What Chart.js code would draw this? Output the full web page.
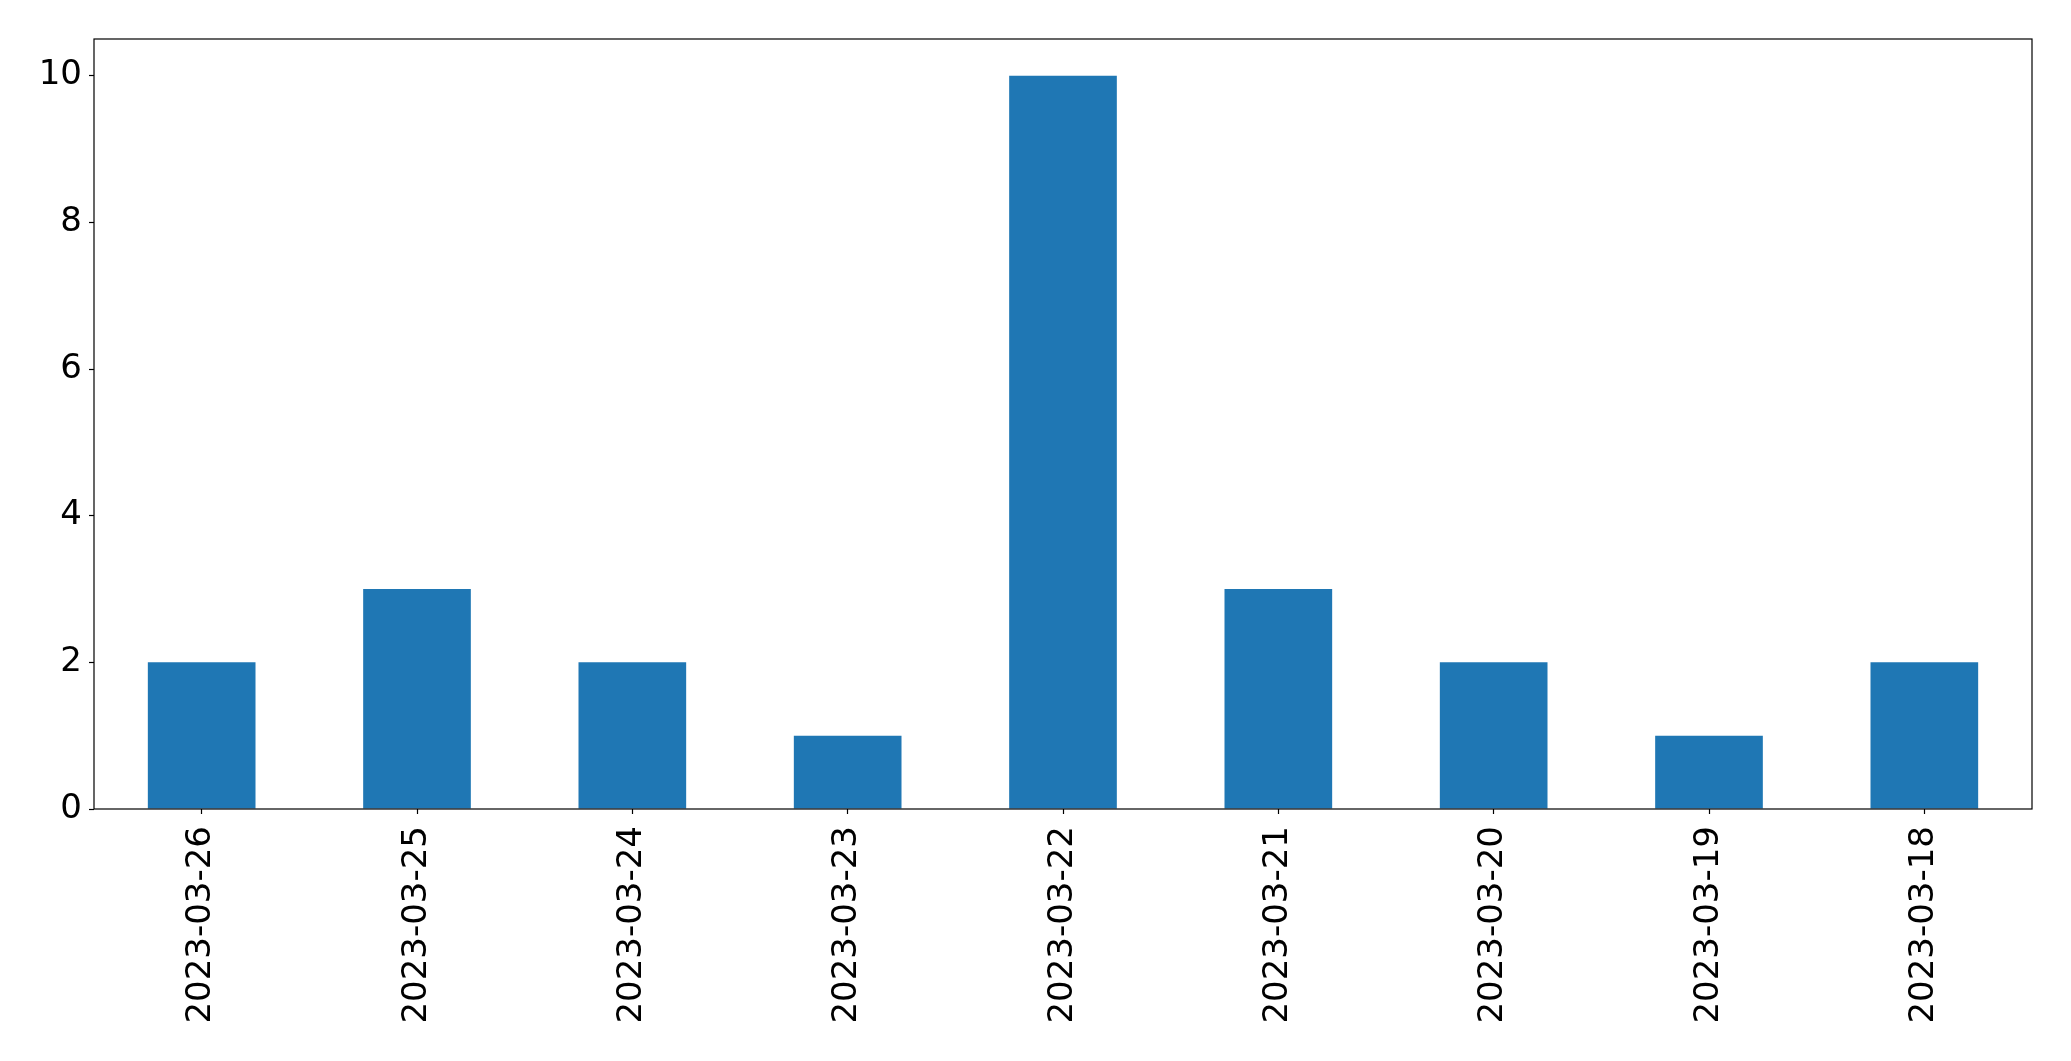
<!DOCTYPE html>
<html>
<head>
<meta charset="utf-8">
<script src="https://cdn.jsdelivr.net/npm/chart.js@4/dist/chart.umd.min.js"></script>
<style>
    body { margin: 0; background: #fff; }
    #chart { display: block; }
</style>
</head>
<body>
<canvas id="chart" width="2071" height="1061"></canvas>
<script>
const dates = ["2023-03-26", "2023-03-25", "2023-03-24", "2023-03-23", "2023-03-22",
               "2023-03-21", "2023-03-20", "2023-03-19", "2023-03-18"];
const counts = [2, 3, 2, 1, 10, 3, 2, 1, 2];
const yTicks = [0, 2, 4, 6, 8, 10];

// draws the full box around the plot area like matplotlib's spines
const frame = {
    id: 'frame',
    afterDatasetsDraw(chart) {
        const { ctx, chartArea } = chart;
        ctx.save();
        ctx.strokeStyle = '#000';
        ctx.lineWidth = 1.2;
        ctx.strokeRect(chartArea.left, chartArea.top,
            chartArea.right - chartArea.left, chartArea.bottom - chartArea.top);
        ctx.restore();
    }
};

const tickFont = { family: 'DejaVu Sans', size: 34 };

new Chart(document.getElementById("chart").getContext("2d"), {
    type: 'bar',
    data: {
        labels: dates,
        datasets: [{
            data: counts,
            backgroundColor: '#1f77b4',
            borderWidth: 0,
            categoryPercentage: 1.0,
            barPercentage: 0.5
        }]
    },
    options: {
        responsive: false,
        animation: false,
        layout: { padding: { top: 39, right: 39, bottom: 0, left: 0 } },
        plugins: {
            legend: { display: false },
            tooltip: { enabled: false }
        },
        scales: {
            x: {
                grid: {
                    offset: false,
                    drawOnChartArea: false,
                    drawTicks: true,
                    tickLength: 5,
                    tickWidth: 1.2,
                    color: '#000'
                },
                border: { display: false },
                ticks: {
                    color: '#000',
                    font: tickFont,
                    minRotation: 90,
                    maxRotation: 90,
                    autoSkip: false,
                    padding: 12
                },
                afterFit(scale) { scale.height = 252; }
            },
            y: {
                min: 0,
                max: 10.5,
                grid: {
                    drawOnChartArea: false,
                    drawTicks: true,
                    tickLength: 5,
                    tickWidth: 1.2,
                    color: '#000'
                },
                border: { display: false },
                ticks: {
                    color: '#000',
                    font: tickFont,
                    padding: 7
                },
                afterBuildTicks(scale) {
                    scale.ticks = yTicks.map(v => ({ value: v }));
                },
                afterFit(scale) { scale.width = 94; }
            }
        }
    },
    plugins: [frame]
});
</script>
</body>
</html>
